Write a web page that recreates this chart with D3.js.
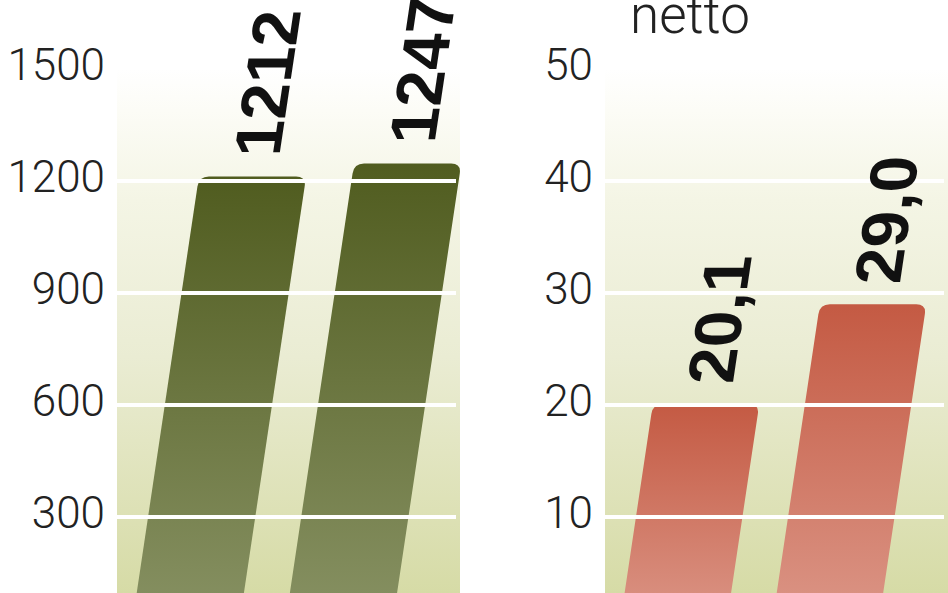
<!DOCTYPE html>
<html lang="pl">

<head>
    <meta charset="UTF-8">
    <title>Przychody i zysk netto</title>
    <script src="https://cdn.jsdelivr.net/npm/d3@7"></script>
    <style>
        body { margin: 0; background: #fff; }
    </style>
</head>

<body>
    <script>
    // dane
    var periods = ['okres 1', 'okres 2'];
    var revenue = [1212, 1247];
    var netProfit = [20.1, 29.0];
    var revenueTicks = [300, 600, 900, 1200, 1500];
    var profitTicks = [10, 20, 30, 40, 50];

    var width = 948;
    var height = 593;
    var y0 = 629; // poziom zera (poza kadrem)
    var yTop = 69;
    var skew = 8.5; // pochylenie słupków w stopniach

    var pl = d3.formatLocale({ decimal: ',', thousands: ' ', grouping: [3], currency: ['', ' zł'] });

    var svg = d3.select('body')
        .append('svg')
        .attr('width', width)
        .attr('height', height);

    var defs = svg.append('defs');

    // tło wykresu
    var bg = defs.append('linearGradient')
        .attr('id', 'bg')
        .attr('x1', 0).attr('y1', 0).attr('x2', 0).attr('y2', 1);
    bg.append('stop').attr('offset', '0%').attr('stop-color', '#ffffff');
    bg.append('stop').attr('offset', '8%').attr('stop-color', '#fcfcf6');
    bg.append('stop').attr('offset', '25%').attr('stop-color', '#f4f5e5');
    bg.append('stop').attr('offset', '55%').attr('stop-color', '#eaecd3');
    bg.append('stop').attr('offset', '100%').attr('stop-color', '#d6dba6');

    function barGradient(id, top, bottom) {
        var g = defs.append('linearGradient')
            .attr('id', id)
            .attr('x1', 0).attr('y1', 0).attr('x2', 0).attr('y2', 1);
        g.append('stop').attr('offset', '0%').attr('stop-color', top);
        g.append('stop').attr('offset', '100%').attr('stop-color', bottom);
    }
    barGradient('green', '#505c1f', '#889264');
    barGradient('red', '#c45a43', '#dc9788');

    // słupek z zaokrąglonymi górnymi rogami
    function barPath(x, y, w, r) {
        return 'M' + x + ',' + y0 +
            'V' + (y + r) +
            'Q' + x + ',' + y + ' ' + (x + r) + ',' + y +
            'H' + (x + w - r) +
            'Q' + (x + w) + ',' + y + ' ' + (x + w) + ',' + (y + r) +
            'V' + y0 + 'Z';
    }

    var skewTransform = 'translate(0,' + y0 + ') skewX(' + (-skew) + ') translate(0,' + (-y0) + ')';

    function panel(opt) {
        var y = d3.scaleLinear()
            .domain([0, opt.max])
            .range([y0, yTop]);
        var x = d3.scaleBand()
            .domain(periods)
            .range(opt.range)
            .paddingInner(0.3)
            .paddingOuter(0.1);

        var g = svg.append('g');

        // tło
        g.append('rect')
            .attr('x', opt.plotLeft)
            .attr('y', yTop)
            .attr('width', opt.plotWidth)
            .attr('height', height - yTop)
            .attr('fill', 'url(#bg)');

        // pochylone słupki
        g.append('g')
            .attr('transform', skewTransform)
            .selectAll('path')
            .data(opt.values)
            .enter()
            .append('path')
            .attr('fill', 'url(#' + opt.color + ')')
            .attr('d', function(d, i) {
                return barPath(x(periods[i]), y(d), x.bandwidth(), 10);
            });

        // linie siatki (bez najwyższej, która ginie w bieli)
        g.selectAll('line.grid')
            .data(opt.ticks.slice(0, -1))
            .enter()
            .append('line')
            .attr('class', 'grid')
            .attr('x1', opt.plotLeft)
            .attr('x2', opt.plotLeft + opt.plotWidth - 4)
            .attr('y1', function(d) { return y(d); })
            .attr('y2', function(d) { return y(d); })
            .attr('stroke', '#fff')
            .attr('stroke-width', 4);

        // wartości, pochylone jak słupki
        g.append('g')
            .attr('transform', skewTransform)
            .selectAll('text')
            .data(opt.values)
            .enter()
            .append('text')
            .attr('transform', function(d, i) {
                return 'translate(' + (x(periods[i]) + x.bandwidth() / 2) + ',' + (y(d) - 20) + ') rotate(-90)';
            })
            .attr('dy', '0.36em')
            .attr('font-family', 'Liberation Sans, Arial, sans-serif')
            .attr('font-weight', 'bold')
            .attr('font-size', '66px')
            .attr('fill', '#111')
            .text(function(d) { return pl.format(opt.fmt)(d); });

        // oś Y
        var axis = svg.append('g')
            .attr('transform', 'translate(' + opt.axisX + ',0)')
            .call(d3.axisLeft(y).tickValues(opt.ticks).tickFormat(d3.format('d')).tickSize(0).tickPadding(0));
        axis.select('.domain').remove();
        axis.selectAll('text')
            .attr('dy', '0.24em')
            .attr('font-family', 'Roboto, sans-serif')
            .attr('font-weight', 300)
            .attr('font-size', '44px')
            .attr('fill', '#222');
    }

    panel({
        values: revenue, max: 1500, ticks: revenueTicks, fmt: 'd',
        range: [116, 407], plotLeft: 117, plotWidth: 343, axisX: 105, color: 'green'
    });
    panel({
        values: netProfit, max: 50, ticks: profitTicks, fmt: '.1f',
        range: [604, 893], plotLeft: 605, plotWidth: 343, axisX: 593, color: 'red'
    });

    // podpis
    svg.append('text')
        .attr('x', 630)
        .attr('y', 33)
        .attr('font-family', 'Roboto, sans-serif')
        .attr('font-weight', 300)
        .attr('font-size', '53px')
        .attr('fill', '#222')
        .text('netto');
    </script>
</body>

</html>
